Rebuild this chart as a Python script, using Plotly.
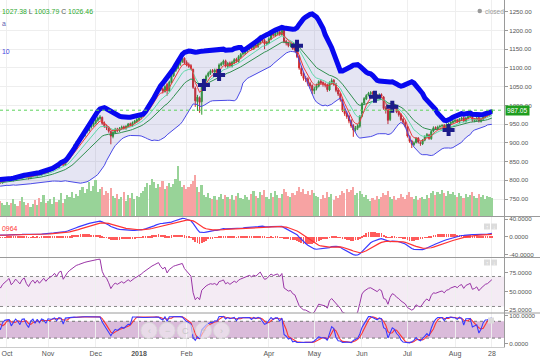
import numpy as np
import pandas as pd
import plotly.graph_objects as go

# ---------------- data ----------------
HOLIDAYS = ["2017-10-02", "2017-10-19", "2017-10-20", "2017-12-25", "2018-01-26",
            "2018-02-13", "2018-03-02", "2018-03-29", "2018-03-30", "2018-05-01",
            "2018-08-15", "2018-08-22"]
START, END = "2017-08-28", "2018-08-28"

opens = [780, 781, 785, 779, 784, 789, 786, 791, 786, 792, 796, 790, 788, 794, 797, 799, 795, 789, 792, 798, 794, 800, 797, 793, 797,
         800, 802, 807, 800, 803, 810, 808, 804, 810, 815, 810, 805, 811, 817, 812, 819, 814, 819, 825,
         820, 827, 828, 831, 839, 834, 845, 851, 840, 851, 861, 872, 879, 891, 901, 905, 915, 919, 929, 933, 942, 946,
         952, 960, 965, 968, 953, 945, 941, 930, 917, 927, 937, 932, 937, 943, 938, 943, 951, 946, 953, 957,
         961, 967, 971, 979, 989, 995, 1007, 1017, 1024, 1035, 1050, 1044, 1037, 1056, 1038, 1061, 1079, 1093, 1099, 1109, 1117, 1126,
         1115, 1109, 1106, 1096, 1046, 1010, 1020, 1010, 1053, 1067, 1079, 1085, 1093, 1089, 1095, 1089, 1107, 1111, 1119,
         1104, 1113, 1105, 1114, 1123, 1117, 1129, 1137, 1139, 1145, 1151, 1156, 1151, 1161, 1157, 1165, 1182, 1173, 1164,
         1167, 1177, 1191, 1186, 1191, 1196, 1189, 1204, 1171, 1167, 1159, 1163, 1153, 1147, 1131, 1099, 1085, 1073, 1071, 1059, 1053,
         1039, 1045, 1051, 1064, 1061, 1057, 1055, 1041, 1059, 1067, 1057, 1041, 1031, 1015, 987, 979, 971, 959, 946, 935, 939, 944,
         971, 1006, 1017, 1027, 1031, 1035, 1031, 1027, 1019, 1029, 1022, 993, 987, 962, 986, 1001, 994, 983, 976, 963, 954,
         943, 917, 905, 895, 901, 913, 901, 897, 907, 917, 921, 911, 931, 941, 937, 943, 945, 947, 939, 949, 951, 954,
         957, 961, 956, 962, 967, 957, 965, 969, 973, 959, 961, 967, 957, 963, 969, 973, 975, 981]

highs = [784, 787, 786, 786, 790, 791, 792, 792, 794, 797, 797, 792, 795, 798, 800, 800, 796, 795, 799, 800, 801, 802, 799, 800, 804,
         806, 809, 808, 806, 812, 812, 810, 814, 817, 817, 812, 815, 819, 819, 821, 821, 823, 828, 827,
         829, 833, 836, 841, 842, 849, 854, 853, 856, 866, 875, 884, 896, 905, 910, 918, 924, 932, 938, 945, 951, 958,
         965, 970, 974, 970, 957, 949, 944, 933, 931, 940, 940, 942, 946, 946, 947, 953, 954, 957, 961, 966,
         970, 976, 984, 992, 1000, 1012, 1020, 1029, 1040, 1053, 1054, 1048, 1054, 1060, 1066, 1084, 1096, 1104, 1114, 1122, 1130, 1128,
         1120, 1114, 1110, 1098, 1050, 1028, 1024, 1056, 1072, 1082, 1090, 1096, 1097, 1098, 1098, 1112, 1116, 1122, 1122,
         1116, 1117, 1119, 1126, 1127, 1134, 1140, 1144, 1150, 1154, 1159, 1160, 1164, 1165, 1170, 1188, 1186, 1177, 1172,
         1182, 1194, 1195, 1196, 1199, 1200, 1210, 1206, 1175, 1170, 1166, 1166, 1157, 1150, 1134, 1104, 1089, 1078, 1075, 1063, 1056,
         1050, 1058, 1067, 1068, 1064, 1061, 1058, 1064, 1072, 1070, 1060, 1046, 1034, 1018, 992, 984, 975, 963, 950, 945, 950, 974,
         1008, 1022, 1030, 1036, 1038, 1038, 1034, 1030, 1032, 1032, 1025, 998, 990, 990, 1004, 1004, 998, 986, 979, 966, 958,
         946, 920, 908, 904, 915, 915, 904, 910, 920, 926, 924, 934, 944, 944, 946, 948, 950, 950, 952, 954, 958, 962,
         964, 964, 966, 970, 970, 969, 974, 976, 975, 966, 970, 970, 967, 973, 978, 980, 985, 990]

lows = [777, 779, 778, 777, 782, 784, 784, 785, 784, 790, 789, 786, 786, 791, 794, 792, 787, 787, 790, 793, 792, 794, 791, 791, 795,
        797, 799, 798, 797, 801, 803, 802, 802, 807, 805, 802, 803, 808, 810, 810, 812, 812, 816, 818,
        817, 823, 825, 829, 832, 832, 842, 838, 838, 848, 858, 868, 876, 887, 897, 902, 911, 916, 925, 930, 938, 943,
        949, 956, 961, 948, 940, 934, 927, 896, 912, 924, 928, 929, 934, 935, 935, 940, 944, 943, 950, 953,
        957, 963, 968, 976, 985, 992, 1003, 1013, 1021, 1032, 1038, 1032, 1034, 1026, 1036, 1058, 1076, 1089, 1096, 1105, 1113, 1110,
        1104, 1100, 1094, 1044, 996, 985, 980, 975, 1048, 1063, 1075, 1081, 1086, 1085, 1084, 1086, 1104, 1108, 1101,
        1100, 1102, 1101, 1110, 1114, 1114, 1125, 1133, 1135, 1141, 1147, 1148, 1148, 1154, 1153, 1162, 1168, 1150, 1160,
        1164, 1174, 1183, 1183, 1187, 1186, 1186, 1166, 1160, 1155, 1155, 1148, 1142, 1126, 1095, 1078, 1066, 1062, 1052, 1045, 1030,
        1030, 1040, 1048, 1055, 1050, 1048, 1036, 1038, 1055, 1052, 1035, 1025, 1010, 982, 972, 964, 952, 940, 916, 930, 934, 940,
        968, 1002, 1014, 1024, 1028, 1026, 1022, 1016, 1016, 1020, 988, 978, 950, 958, 982, 990, 979, 970, 958, 950, 940,
        914, 900, 886, 892, 898, 898, 892, 894, 904, 913, 908, 908, 928, 934, 934, 939, 941, 936, 936, 945, 947, 951,
        954, 953, 952, 958, 955, 954, 962, 966, 956, 955, 958, 954, 954, 960, 966, 970, 972, 978]

closes = [782, 785, 780, 784, 788, 786, 790, 787, 792, 795, 791, 789, 793, 796, 798, 794, 790, 793, 797, 795, 799, 796, 794, 798, 801,
          803, 806, 801, 804, 809, 807, 805, 811, 814, 809, 806, 812, 816, 813, 818, 815, 820, 824, 821,
          826, 829, 832, 838, 835, 846, 850, 841, 852, 862, 871, 880, 892, 900, 906, 914, 920, 928, 934, 941, 947, 953,
          961, 966, 969, 952, 944, 940, 931, 918, 928, 936, 933, 938, 942, 939, 944, 950, 947, 954, 958, 962,
          966, 972, 980, 988, 996, 1008, 1016, 1025, 1036, 1048, 1042, 1038, 1050, 1040, 1062, 1080, 1092, 1100, 1110, 1118, 1124, 1114,
          1108, 1104, 1098, 1048, 1012, 1022, 1008, 1052, 1068, 1078, 1086, 1092, 1090, 1094, 1088, 1108, 1112, 1118, 1105,
          1112, 1106, 1115, 1122, 1118, 1130, 1136, 1140, 1146, 1150, 1155, 1152, 1160, 1158, 1166, 1180, 1172, 1165, 1168,
          1178, 1190, 1187, 1192, 1195, 1190, 1205, 1170, 1166, 1160, 1162, 1152, 1148, 1130, 1100, 1084, 1072, 1070, 1058, 1052, 1040,
          1044, 1052, 1063, 1060, 1056, 1054, 1042, 1060, 1066, 1056, 1040, 1030, 1016, 986, 978, 970, 958, 945, 934, 940, 946, 970,
          1005, 1018, 1026, 1032, 1034, 1030, 1026, 1020, 1028, 1024, 992, 988, 960, 985, 1000, 995, 982, 975, 962, 955, 944,
          918, 904, 896, 900, 912, 902, 898, 906, 916, 922, 912, 930, 940, 938, 942, 944, 946, 940, 948, 950, 955, 958,
          960, 957, 963, 966, 958, 966, 970, 972, 960, 962, 966, 958, 964, 970, 974, 976, 982, 987.05]

volumes = [12, 10, 14, 11, 9, 13, 12, 10, 15, 11, 12, 14, 10, 13, 11, 12, 15, 13, 11, 14, 12, 13, 16, 14, 12,
           15, 12, 14, 18, 13, 11, 16, 20, 15, 12, 14, 10, 13, 17, 12, 19, 15, 22, 14,
           16, 18, 13, 20, 15, 17, 24, 14, 18, 22, 20, 25, 19, 23, 21, 27, 30, 24, 28, 35, 26, 31,
           37, 25, 28, 30, 22, 26, 24, 29, 21, 19, 23, 18, 20, 25, 16, 22, 19, 24, 18, 21,
           20, 24, 26, 30, 34, 32, 38, 35, 29, 33, 30, 36, 28, 31, 34, 30, 33, 38, 51, 36, 30, 32,
           28, 30, 33, 36, 42, 30, 25, 32, 22, 20, 24, 19, 18, 21, 17, 20, 23, 18, 22,
           20, 18, 22, 17, 21, 24, 19, 18, 22, 20, 17, 23, 26, 21, 19, 25, 22, 27, 20,
           18, 24, 20, 26, 22, 19, 23, 28, 25, 21, 20, 24, 22, 26, 30, 25, 28, 23, 26, 22, 27,
           24, 21, 20, 18, 22, 19, 25, 20, 23, 17, 21, 19, 22, 26, 24, 28, 25, 27, 30, 22, 24, 26,
           23, 20, 22, 18, 16, 19, 17, 21, 18, 20, 24, 22, 26, 20, 18, 21, 17, 19, 23, 20, 18,
           22, 25, 20, 18, 21, 17, 19, 20, 18, 22, 19, 24, 26, 22, 25, 23, 27, 24, 21, 26, 23, 25,
           22, 20, 24, 21, 19, 23, 20, 22, 25, 21, 19, 23, 20, 22, 18, 21, 20, 19]

signal_dates = ["2018-02-14", "2018-02-23", "2018-04-19", "2018-06-11", "2018-06-21", "2018-07-27"]
signal_prices = [1054, 1081, 1159, 1023, 996, 934]

tick_dates = ["2017-10-03", "2017-11-01", "2017-12-01", "2018-01-01", "2018-02-01",
              "2018-04-02", "2018-05-02", "2018-06-01", "2018-07-02", "2018-08-01", "2018-08-28"]
tick_labels = ["Oct", "Nov", "Dec", "<b>2018</b>", "Feb", "Apr", "May", "Jun", "Jul", "Aug", "28"]

price_ticks = [750, 800, 850, 900, 950, 1000, 1050, 1100, 1150, 1200, 1250]
macd_ticks = [-40, 0, 40]
rsi_ticks = [25, 50, 75]
stoch_ticks = [0, 100]

legend_text = ("1027.38 <span style='color:#555555'>L</span> 1003.79 "
               "<span style='color:#555555'>C</span> 1026.46")

# ---------------- calendar / indicators ----------------
dates = pd.bdate_range(START, END)
dates = dates[~dates.isin(pd.to_datetime(HOLIDAYS))]
n = len(dates)
assert n == len(closes) == len(opens) == len(highs) == len(lows) == len(volumes)
x = np.arange(n)

o = pd.Series(opens, dtype=float)
h = pd.Series(highs, dtype=float)
l = pd.Series(lows, dtype=float)
c = pd.Series(closes, dtype=float)
v = pd.Series(volumes, dtype=float)

ema_fast = c.ewm(span=5, adjust=False).mean()
ema_mid = c.ewm(span=10, adjust=False).mean()
ema_slow = c.ewm(span=20, adjust=False).mean()
bb_mid = c.rolling(20, min_periods=1).mean()
bb_sd = c.rolling(20, min_periods=1).std(ddof=0)
bb_up = bb_mid + 2 * bb_sd
bb_lo = bb_mid - 2 * bb_sd

macd = c.ewm(span=12, adjust=False).mean() - c.ewm(span=26, adjust=False).mean()
macd_sig = macd.ewm(span=9, adjust=False).mean()
macd_hist = macd - macd_sig

delta = c.diff().fillna(0)
gain = delta.clip(lower=0).ewm(alpha=1 / 14, adjust=False).mean()
loss = (-delta.clip(upper=0)).ewm(alpha=1 / 14, adjust=False).mean()
rsi = 100 - 100 / (1 + gain / loss.replace(0, np.nan))
rsi = rsi.fillna(50)

ll = l.rolling(14, min_periods=1).min()
hh = h.rolling(14, min_periods=1).max()
stoch_k = 100 * (c - ll) / (hh - ll)
stoch_d = stoch_k.rolling(3, min_periods=1).mean()


def idx_of(d):
    return int(dates.searchsorted(pd.Timestamp(d)))


i0 = idx_of("2017-10-03")
sig_x = [idx_of(d) for d in signal_dates]
tick_x = [idx_of(d) for d in tick_dates]

# ---------------- geometry ----------------
W, H = 540, 360
ML, MR, MT, MB = 0, 36, 0, 13
PW, PH = W - ML - MR, H - MT - MB


def py(yp):  # pixel row -> paper y
    return (PH - yp) / PH


def pxp(xp):  # pixel col -> paper x
    return xp / PW


D_PRICE = [py(216.5), 1.0]
D_MACD = [py(257.5), py(216.5)]
D_RSI = [py(313), py(257.5)]
D_STO = [0.0, py(313)]

FONT = "Liberation Sans, Arial, sans-serif"
TICKF = dict(family=FONT, size=6.2, color="#555555")

fig = go.Figure()

# volume (overlay axis)
vcol = ["#98d398" if cc >= oo else "#f7a3a3" for oo, cc in zip(opens, closes)]
fig.add_trace(go.Bar(x=x, y=v, marker=dict(color=vcol, line=dict(width=0)), width=0.75,
                     xaxis="x", yaxis="y5", hoverinfo="skip"))

# Bollinger fill
fig.add_trace(go.Scatter(x=x, y=bb_up, mode="lines", line=dict(width=0, color="rgba(0,0,0,0)"),
                         xaxis="x", yaxis="y", hoverinfo="skip"))
fig.add_trace(go.Scatter(x=x, y=bb_lo, mode="lines", line=dict(width=1, color="#4a4ae6"),
                         fill="tonexty", fillcolor="rgba(95,95,180,0.16)", xaxis="x", yaxis="y"))
# moving averages
fig.add_trace(go.Scatter(x=x, y=ema_slow, mode="lines", line=dict(width=1, color="#2f8f4f"), xaxis="x", yaxis="y"))
fig.add_trace(go.Scatter(x=x, y=ema_mid, mode="lines", line=dict(width=1, color="#5fd8a8"), xaxis="x", yaxis="y"))
fig.add_trace(go.Scatter(x=x, y=ema_fast, mode="lines", line=dict(width=1, color="#ee3a3a"), xaxis="x", yaxis="y"))

# candles
fig.add_trace(go.Candlestick(x=x, open=o, high=h, low=l, close=c, whiskerwidth=0,
                             increasing=dict(line=dict(color="#2c9a2c", width=1), fillcolor="#2c9a2c"),
                             decreasing=dict(line=dict(color="#cf2525", width=1), fillcolor="#cf2525"),
                             xaxis="x", yaxis="y"))
# thick upper band
fig.add_trace(go.Scatter(x=x, y=bb_up, mode="lines", line=dict(width=5, color="#0808f0"), xaxis="x", yaxis="y"))
# signal crosses
fig.add_trace(go.Scatter(x=sig_x, y=signal_prices, mode="markers",
                         marker=dict(symbol="cross", size=10, color="#1c1c8a", line=dict(width=0)),
                         xaxis="x", yaxis="y"))

# MACD
fig.add_trace(go.Bar(x=x, y=macd_hist, marker=dict(color="#ff5a5a", line=dict(width=0)), width=0.35,
                     xaxis="x", yaxis="y2"))
fig.add_trace(go.Scatter(x=x, y=macd, mode="lines", line=dict(width=1.2, color="#3a3aff"), xaxis="x", yaxis="y2"))
fig.add_trace(go.Scatter(x=x, y=macd_sig, mode="lines", line=dict(width=1.2, color="#ff3333"), xaxis="x", yaxis="y2"))

# RSI
fig.add_trace(go.Scatter(x=x, y=rsi, mode="lines", line=dict(width=1, color="#9a35a6"), xaxis="x", yaxis="y3"))

# Stochastic
fig.add_trace(go.Scatter(x=x, y=stoch_d, mode="lines", line=dict(width=1.1, color="#ff3333"), xaxis="x", yaxis="y4"))
fig.add_trace(go.Scatter(x=x, y=stoch_k, mode="lines", line=dict(width=1.1, color="#3a3aff"), xaxis="x", yaxis="y4"))

shapes = []
# RSI band
shapes.append(dict(type="rect", xref="paper", x0=0, x1=1, yref="y3", y0=30, y1=70,
                   fillcolor="rgba(150,60,150,0.10)", line=dict(width=0), layer="below"))
for lv in (30, 70):
    shapes.append(dict(type="line", xref="paper", x0=0, x1=1, yref="y3", y0=lv, y1=lv,
                       line=dict(color="#888888", width=1, dash="dot"), layer="below"))
# Stoch band
shapes.append(dict(type="rect", xref="paper", x0=0, x1=1, yref="y4", y0=20, y1=80,
                   fillcolor="rgba(150,60,150,0.35)", line=dict(width=0), layer="below"))
for lv in (20, 80):
    shapes.append(dict(type="line", xref="paper", x0=0, x1=1, yref="y4", y0=lv, y1=lv,
                       line=dict(color="#777777", width=1, dash="dot"), layer="below"))
# last price line
shapes.append(dict(type="line", xref="paper", x0=0, x1=1, yref="y", y0=closes[-1], y1=closes[-1],
                   line=dict(color="#5ad25a", width=1, dash="dot")))
# panel separators
for yp in (216.5, 257.5, 313):
    shapes.append(dict(type="line", xref="paper", x0=0, x1=W / PW, yref="paper", y0=py(yp), y1=py(yp),
                       line=dict(color="#9a9a9a", width=1)))
# navigator buttons
for cx in (149, 167, 185, 203.5, 221.5):
    shapes.append(dict(type="circle", xref="paper", yref="paper",
                       x0=pxp(cx - 8), x1=pxp(cx + 8), y0=py(330.5 + 8), y1=py(330.5 - 8),
                       fillcolor="rgba(245,245,245,0.55)", line=dict(color="rgba(215,215,215,0.9)", width=1)))
# small arrow boxes
for (x0, y0) in ((484, 223.5), (491, 223.5), (484, 259.5), (491, 259.5), (488, 317.5)):
    shapes.append(dict(type="rect", xref="paper", yref="paper", x0=pxp(x0), x1=pxp(x0 + 6),
                       y0=py(y0 + 6), y1=py(y0), fillcolor="#dcdcdc", line=dict(width=0)))
# closed dot
shapes.append(dict(type="circle", xref="paper", yref="paper", x0=pxp(477.5), x1=pxp(482),
                   y0=py(13.3), y1=py(8.8), fillcolor="#999999", line=dict(width=0)))

ann = []
ann.append(dict(xref="paper", yref="y", x=1, y=closes[-1], xanchor="left", yanchor="middle",
                text=f"{closes[-1]:.2f}", showarrow=False, xshift=1, bgcolor="#1e9e1e",
                borderpad=1, font=dict(family=FONT, size=6.6, color="white")))
ann.append(dict(xref="paper", yref="paper", x=0, y=py(11), xanchor="left", yanchor="middle",
                text=legend_text, showarrow=False, font=dict(family=FONT, size=6.9, color="#2faa2f")))
ann.append(dict(xref="paper", yref="paper", x=0, y=py(24), xanchor="left", yanchor="middle",
                text="a", showarrow=False, font=dict(family=FONT, size=6.9, color="#6060b0")))
ann.append(dict(xref="paper", yref="paper", x=0, y=py(52), xanchor="left", yanchor="middle",
                text="10", showarrow=False, font=dict(family=FONT, size=6.9, color="#4444e0")))
ann.append(dict(xref="paper", yref="paper", x=0, y=py(228), xanchor="left", yanchor="middle",
                text="0964", showarrow=False, font=dict(family=FONT, size=6.9, color="#ff3333")))
ann.append(dict(xref="paper", yref="paper", x=pxp(483), y=py(11), xanchor="left", yanchor="middle",
                text="closed", showarrow=False, font=dict(family=FONT, size=6.5, color="#9a9a9a")))
for cx, g in zip((149, 167, 185, 203.5, 221.5), ("‹", "−", "C", "+", "›")):
    ann.append(dict(xref="paper", yref="paper", x=pxp(cx), y=py(330.5), xanchor="center", yanchor="middle",
                    text=g, showarrow=False, font=dict(family=FONT, size=9, color="#c8c8c8")))
for (x0, y0, g) in ((484, 223.5, "↑"), (491, 223.5, "↓"), (484, 259.5, "↑"), (491, 259.5, "↓")):
    ann.append(dict(xref="paper", yref="paper", x=pxp(x0 + 3), y=py(y0 + 3), xanchor="center",
                    yanchor="middle", text=g, showarrow=False, font=dict(family=FONT, size=5, color="white")))


def yax(domain, rng, tv, tt, grid=True):
    return dict(domain=domain, range=rng, side="right", anchor="x", tickvals=tv, ticktext=tt,
                showgrid=grid, gridcolor="#eeeeee", zeroline=False, showline=True,
                linecolor="#9a9a9a", linewidth=1, ticks="outside", ticklen=3, tickcolor="#9a9a9a",
                tickfont=TICKF, fixedrange=True, automargin=False)


fig.update_layout(
    width=W, height=H, margin=dict(l=ML, r=MR, t=MT, b=MB, autoexpand=False),
    paper_bgcolor="white", plot_bgcolor="white", showlegend=False, bargap=0,
    font=dict(family=FONT),
    xaxis=dict(domain=[0, 1], anchor="y4", range=[i0 - 3.2, i0 + 229.6],
               tickvals=tick_x, ticktext=tick_labels, showgrid=True, gridcolor="#efefef",
               zeroline=False, showline=True, linecolor="#cccccc", ticks="",
               tickfont=dict(family=FONT, size=7, color="#555555"), automargin=False,
               rangeslider=dict(visible=False)),
    yaxis=yax(D_PRICE, [703.3, 1281.2], price_ticks, [f"{t:.2f}" for t in price_ticks]),
    yaxis2=yax(D_MACD, [-47.1, 45.7], macd_ticks, [f"{t:.4f}" for t in macd_ticks], grid=False),
    yaxis3=yax(D_RSI, [21.3, 95.3], rsi_ticks, [f"{t:.4f}" for t in rsi_ticks], grid=False),
    yaxis4=yax(D_STO, [-11.8, 109.6], stoch_ticks, [f"{t:.4f}" for t in stoch_ticks], grid=False),
    yaxis5=dict(domain=D_PRICE, overlaying="y", range=[0, 4.25 * max(volumes)], visible=False,
                fixedrange=True),
    shapes=shapes, annotations=ann,
)

fig.write_html("out.html", config={"displayModeBar": False},
               post_script="document.body.style.margin='0';document.body.style.overflow='hidden';")
